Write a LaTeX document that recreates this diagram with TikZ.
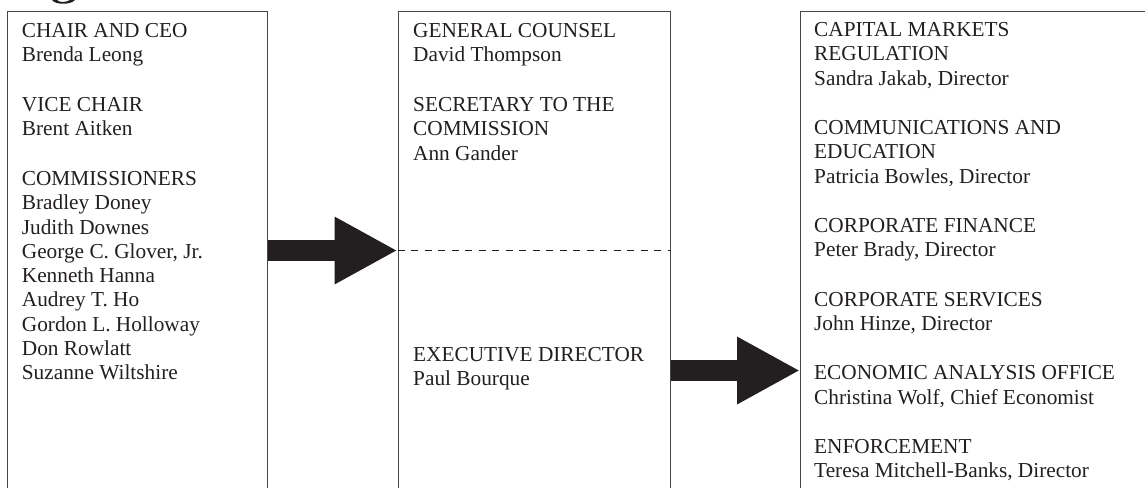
\documentclass[tikz,border=0pt]{standalone}
\usepackage{fontspec}
\setmainfont{Liberation Serif}
\usetikzlibrary{arrows.meta}
\definecolor{ink}{RGB}{35,31,32}
\definecolor{frame}{RGB}{70,70,70}
\begin{document}
\begin{tikzpicture}[x=1pt,y=-1pt,
  panel/.style={draw=frame, line width=1.2pt, anchor=north west, inner sep=0pt, minimum height=530pt},
  txt/.style={anchor=base west, inner sep=0pt, text=ink, font=\fontsize{21.3}{24.3}\selectfont},
  bigarrow/.style={draw=ink, line width=21pt, -{Triangle[length=63pt,width=63pt]}},
  divider/.style={draw=ink, line width=1.4pt, dash pattern=on 7pt off 6.5pt}]
\useasboundingbox (0,0) rectangle (1145,487);
\clip (0,0) rectangle (1145,487);
% fragment of heading glyph cut off at top
\fill[ink] (52,0) .. controls (55,5) and (71,5) .. (75,0) -- (70,0) .. controls (66,2.6) and (59,2.6) .. (57,0) -- cycle;
% panels
\node[panel, minimum width=260pt] (board) at (7,10.7) {};
\node[panel, minimum width=272pt] (counsel) at (397.5,10.7) {};
\node[panel, minimum width=380pt] (branches) at (800,10.7) {};
% texts
\node[txt] (boardtxt) at (21.7,37.3) {\begin{tabular}[t]{@{}l@{}}
CHAIR AND CEO\\ Brenda Leong\\[25.5pt]
VICE CHAIR\\ Brent Aitken\\[25.5pt]
COMMISSIONERS\\ Bradley Doney\\ Judith Downes\\ George C. Glover, Jr.\\ Kenneth Hanna\\ Audrey T. Ho\\ Gordon L. Holloway\\ Don Rowlatt\\ Suzanne Wiltshire
\end{tabular}};
\node[txt] (counseltxt) at (413,37.3) {\begin{tabular}[t]{@{}l@{}}
GENERAL COUNSEL\\ David Thompson\\[25.5pt]
SECRETARY TO THE\\ COMMISSION\\ Ann Gander
\end{tabular}};
\node[txt] (exectxt) at (413,361) {\begin{tabular}[t]{@{}l@{}}
EXECUTIVE DIRECTOR\\ Paul Bourque
\end{tabular}};
\node[txt] (branchtxt) at (814,36.7) {\begin{tabular}[t]{@{}l@{}}
CAPITAL MARKETS\\ REGULATION\\ Sandra Jakab, Director\\[25pt]
COMMUNICATIONS AND\\ EDUCATION\\ Patricia Bowles, Director\\[25pt]
CORPORATE FINANCE\\ Peter Brady, Director\\[25pt]
CORPORATE SERVICES\\ John Hinze, Director\\[25pt]
ECONOMIC ANALYSIS OFFICE\\ Christina Wolf, Chief Economist\\[25pt]
ENFORCEMENT\\ Teresa Mitchell-Banks, Director
\end{tabular}};
% connectors
\coordinate (lvl1) at (0,250.5);
\coordinate (lvl2) at (0,370.5);
\draw[divider] (counsel.west |- lvl1) -- (counsel.east |- lvl1);
\draw[bigarrow] (board.east |- lvl1) -- (counsel.west |- lvl1);
\draw[bigarrow] (counsel.east |- lvl2) -- (branches.west |- lvl2);
\end{tikzpicture}
\end{document}
